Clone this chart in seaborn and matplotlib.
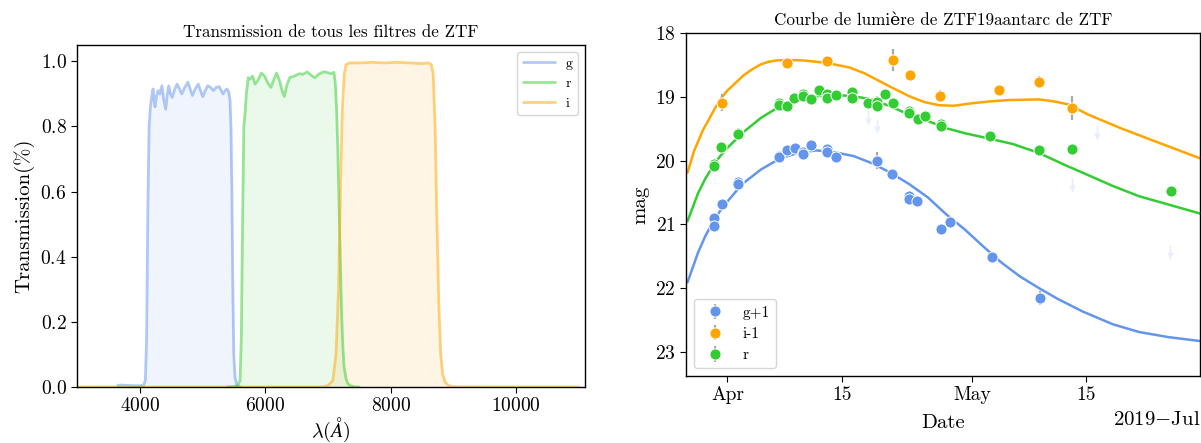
import numpy as np
import pandas as pd
import matplotlib
matplotlib.use("Agg")
import matplotlib.pyplot as plt
import matplotlib.dates as mdates
from matplotlib.path import Path
import seaborn as sns


# Filter transmission curves (wavelength in Angstrom, transmission)

g_wl = [3650, 3700, 3800, 3900, 4000, 4060, 4090, 4110, 4130, 4150,
        4170, 4190, 4213, 4230, 4244, 4270, 4293, 4320, 4354, 4385,
        4415, 4440, 4463, 4490, 4518, 4560, 4598, 4635, 4671, 4720,
        4768, 4805, 4841, 4885, 4933, 4970, 5006, 5045, 5085, 5130,
        5177, 5220, 5268, 5300, 5329, 5360, 5390, 5420, 5440, 5455,
        5470, 5485, 5500, 5520, 5550, 5600]
g_tr = [0.005, 0.006, 0.005, 0.004, 0.004, 0.005, 0.02, 0.15, 0.55, 0.80,
        0.86, 0.89, 0.915, 0.88, 0.86, 0.895, 0.91, 0.90, 0.925, 0.88,
        0.853, 0.90, 0.925, 0.90, 0.889, 0.915, 0.93, 0.915, 0.90, 0.92,
        0.936, 0.915, 0.895, 0.915, 0.93, 0.91, 0.891, 0.91, 0.925, 0.92,
        0.91, 0.92, 0.922, 0.91, 0.90, 0.91, 0.915, 0.905, 0.88, 0.80,
        0.60, 0.30, 0.10, 0.03, 0.005, 0.0]

r_wl = [5400, 5560, 5600, 5620, 5640, 5660, 5680, 5700, 5730, 5760,
        5800, 5840, 5880, 5939, 5990, 6040, 6091, 6140, 6183, 6230,
        6270, 6305, 6350, 6396, 6450, 6500, 6550, 6600, 6671, 6730,
        6793, 6850, 6900, 6945, 7000, 7050, 7098, 7120, 7140, 7160,
        7180, 7200, 7220, 7240, 7260, 7290, 7320, 7360, 7420, 7500]
r_tr = [0.0, 0.003, 0.02, 0.15, 0.50, 0.80, 0.84, 0.90, 0.95, 0.945,
        0.955, 0.93, 0.94, 0.964, 0.955, 0.935, 0.92, 0.945, 0.964, 0.94,
        0.91, 0.892, 0.93, 0.951, 0.953, 0.958, 0.962, 0.96, 0.967, 0.958,
        0.949, 0.96, 0.965, 0.968, 0.965, 0.962, 0.966, 0.93, 0.85, 0.72,
        0.55, 0.38, 0.22, 0.12, 0.06, 0.025, 0.01, 0.004, 0.001, 0.0]

i_wl = [3000, 6900, 7000, 7080, 7130, 7170, 7200, 7230, 7260, 7290,
        7350, 7500, 7700, 7900, 8100, 8300, 8500, 8600, 8650, 8680,
        8710, 8740, 8770, 8800, 8830, 8870, 8920, 9000, 9500, 11000]
i_tr = [0.0, 0.0, 0.004, 0.02, 0.10, 0.30, 0.60, 0.85, 0.96, 0.99,
        0.995, 0.995, 0.997, 0.995, 0.997, 0.995, 0.993, 0.995, 0.99, 0.96,
        0.80, 0.50, 0.25, 0.10, 0.04, 0.015, 0.005, 0.001, 0.0, 0.0]


# Light curve of ZTF19aantarc (MJD, plotted magnitude, error)

g_mjd = [58572.32, 58572.32, 58573.30, 58575.26, 58575.26, 58580.26, 58580.26, 58581.28,
         58582.29, 58583.31, 58583.31, 58584.29, 58586.25, 58586.25, 58587.30, 58592.38,
         58594.22, 58596.27, 58596.27, 58597.29, 58600.22, 58601.26, 58606.40, 58612.28]
g_mag = [20.90, 21.02, 20.68, 20.33, 20.36, 19.92, 19.95, 19.84,
         19.81, 19.87, 19.90, 19.76, 19.82, 19.86, 19.94, 20.00,
         20.21, 20.56, 20.60, 20.63, 21.08, 20.96, 21.52, 22.16]
g_err = [0.05, 0.07, 0.04, 0.04, 0.04, 0.03, 0.03, 0.03,
         0.03, 0.03, 0.03, 0.03, 0.03, 0.03, 0.03, 0.13,
         0.07, 0.04, 0.04, 0.04, 0.04, 0.04, 0.08, 0.11]

i_mjd = [58573.28, 58581.33, 58586.25, 58594.31, 58596.33, 58600.12, 58607.30, 58612.20, 58616.24]
i_mag = [19.09, 18.465, 18.44, 18.42, 18.65, 18.99, 18.89, 18.77, 19.17]
i_err = [0.13, 0.05, 0.05, 0.17, 0.07, 0.09, 0.07, 0.09, 0.19]

r_mjd = [58572.32, 58572.32, 58573.25, 58575.26, 58575.26, 58580.27, 58580.27, 58581.30,
         58582.22, 58583.24, 58583.24, 58584.28, 58585.27, 58586.25, 58586.25, 58587.28,
         58589.24, 58589.24, 58591.28, 58592.31, 58592.31, 58593.29, 58594.34, 58596.27,
         58596.27, 58597.34, 58598.27, 58600.20, 58600.20, 58606.20, 58612.25, 58616.22,
         58628.35]
r_mag = [20.05, 20.09, 19.78, 19.56, 19.59, 19.09, 19.12, 19.14,
         19.01, 18.96, 18.99, 19.04, 18.90, 18.96, 19.01, 18.97,
         18.93, 19.01, 19.10, 19.08, 19.14, 18.96, 19.10, 19.22,
         19.25, 19.35, 19.30, 19.42, 19.46, 19.61, 19.83, 19.82,
         20.47]
r_err = [0.06, 0.06, 0.04, 0.04, 0.04, 0.03, 0.03, 0.03,
         0.03, 0.03, 0.03, 0.03, 0.03, 0.03, 0.03, 0.03,
         0.04, 0.04, 0.08, 0.09, 0.05, 0.03, 0.04, 0.03,
         0.03, 0.03, 0.03, 0.03, 0.03, 0.03, 0.03, 0.07,
         0.07]

# upper limits
lim_mjd = [58591.28, 58592.31, 58616.26, 58619.28, 58628.31]
lim_mag = [19.33, 19.46, 20.39, 19.56, 21.43]

# fitted models
g_fit_mjd = [58569.1, 58570.4, 58571.3, 58572.2, 58573.1, 58574.0, 58575.8, 58578.1, 58580.4,
             58582.6, 58584.9, 58587.2, 58589.5, 58591.7, 58594.0, 58596.3, 58598.6, 58600.8,
             58603.1, 58605.4, 58607.6, 58609.9, 58612.2, 58614.5, 58617.6, 58621.3, 58624.5,
             58628.1, 58632.5]
g_fit_mag = [21.91, 21.44, 21.18, 20.97, 20.79, 20.64, 20.37, 20.14, 19.97,
             19.88, 19.84, 19.87, 19.93, 20.04, 20.19, 20.37, 20.58, 20.84,
             21.08, 21.35, 21.60, 21.82, 22.00, 22.17, 22.37, 22.57, 22.69,
             22.77, 22.84]

i_fit_mjd = [58569.1, 58569.9, 58571.0, 58572.6, 58573.3, 58574.0, 58575.0, 58576.0,
             58577.0, 58578.1, 58579.0, 58579.9, 58581.3, 58583.5, 58586.3, 58589.0,
             58590.8, 58592.6, 58594.4, 58596.3, 58598.1, 58599.9, 58601.7, 58604.0,
             58606.3, 58608.5, 58612.2, 58614.0, 58615.9, 58618.1, 58622.2, 58626.7,
             58632.5]
i_fit_mag = [20.19, 19.85, 19.52, 19.15, 19.01, 18.90, 18.78, 18.66,
             18.57, 18.49, 18.45, 18.43, 18.42, 18.43, 18.47, 18.54,
             18.63, 18.75, 18.87, 18.99, 19.08, 19.13, 19.14, 19.10,
             19.07, 19.05, 19.04, 19.07, 19.12, 19.27, 19.49, 19.71,
             19.99]

r_fit_mjd = [58569.1, 58570.4, 58571.3, 58572.2, 58573.1, 58574.0, 58575.8, 58578.1, 58580.4,
             58582.6, 58584.9, 58587.2, 58589.5, 58591.7, 58594.0, 58596.3, 58598.6, 58600.8,
             58603.1, 58606.3, 58609.0, 58612.2, 58615.4, 58618.1, 58621.3, 58624.5,
             58628.1, 58632.5]
r_fit_mag = [20.95, 20.51, 20.28, 20.09, 19.93, 19.80, 19.57, 19.33, 19.15,
             19.04, 18.99, 18.97, 18.99, 19.04, 19.15, 19.28, 19.38, 19.49,
             19.57, 19.66, 19.74, 19.88, 20.07, 20.22, 20.40, 20.56,
             20.69, 20.85]


def mjd_to_date(mjd):
    return pd.to_datetime(np.asarray(mjd), unit="D", origin=pd.Timestamp("1858-11-17"))


# Style

sns.set_style("ticks")
plt.rcParams.update({
    "font.family": ["cmr10", "DejaVu Serif"],
    "mathtext.fontset": "cm",
    "axes.formatter.use_mathtext": True,
    "axes.unicode_minus": False,
    "axes.edgecolor": "black",
    "axes.linewidth": 1.0,
    "text.color": "black",
    "axes.labelcolor": "black",
    "xtick.color": "black",
    "ytick.color": "black",
    "xtick.major.size": 4,
    "ytick.major.size": 4,
})

colors = {"g": "cornflowerblue", "r": "limegreen", "i": "orange"}

# down arrow used for the upper limits
arrow = Path([(-0.12, 1.0), (0.12, 1.0), (0.12, 0.0), (0.45, 0.0), (0.0, -1.0),
              (-0.45, 0.0), (-0.12, 0.0), (-0.12, 1.0)])

fig = plt.figure(figsize=(12.01, 4.43), dpi=100)

ax1 = fig.add_axes([0.0641, 0.1264, 0.423, 0.772])
ax2 = fig.add_axes([0.5712, 0.1512, 0.428, 0.774])


# Left : filter transmissions

for band, wl, tr in [("g", g_wl, g_tr), ("r", r_wl, r_tr), ("i", i_wl, i_tr)]:

    sns.lineplot(x=wl, y=tr, ax=ax1, color=colors[band], alpha=0.5,
                 linewidth=2, label=band, sort=False)

    ax1.fill_between(wl, tr, color=colors[band], alpha=0.1, linewidth=0)

ax1.set_xlim(3000, 11100)
ax1.set_ylim(0, 1.05)
ax1.set_title("Transmission de tous les filtres de ZTF", fontsize=12.3)
ax1.set_xlabel(r"$\lambda(\AA)$", fontsize=14.5, labelpad=0)
ax1.set_ylabel("Transmission(%)", fontsize=15)
ax1.tick_params(labelsize=14)
ax1.legend(loc="upper right", fontsize=10, handlelength=2.3)


# Right : light curve

for band, label, mjd, mag, err, fmjd, fmag in [
        ("g", "g+1", g_mjd, g_mag, g_err, g_fit_mjd, g_fit_mag),
        ("i", "i-1", i_mjd, i_mag, i_err, i_fit_mjd, i_fit_mag),
        ("r", "r", r_mjd, r_mag, r_err, r_fit_mjd, r_fit_mag)]:

    sns.lineplot(x=mjd_to_date(fmjd), y=fmag, ax=ax2, color=colors[band],
                 linewidth=1.8, legend=False)

    ax2.errorbar(mjd_to_date(mjd), mag, yerr=err, fmt="o", color=colors[band],
                 ecolor="darkgray", elinewidth=1.6, capsize=0, markersize=8,
                 markeredgecolor="white", markeredgewidth=0.7, label=label)

ax2.scatter(mjd_to_date(lim_mjd), lim_mag, marker=arrow, s=110,
            color="cornflowerblue", alpha=0.15, linewidths=0)

ax2.set_xlim(pd.Timestamp("2019-03-26 22:00"), pd.Timestamp("2019-05-28 23:00"))
ax2.set_ylim(23.38, 18)

locator = mdates.DayLocator(bymonthday=[1, 15])
formatter = mdates.ConciseDateFormatter(locator, offset_formats=[""] * 6)
ax2.xaxis.set_major_locator(locator)
ax2.xaxis.set_major_formatter(formatter)

ax2.set_title("Courbe de lumière de ZTF19aantarc de ZTF", fontsize=12.3)
ax2.set_xlabel("Date", fontsize=15, labelpad=7)
ax2.set_ylabel("mag", fontsize=15)
ax2.tick_params(labelsize=14)
ax2.text(1.0, -0.128, r"$2019{-}\mathrm{Jul}$", transform=ax2.transAxes,
         ha="right", va="center", fontsize=15)
ax2.legend(loc="lower left", fontsize=11)

fig.savefig("out.png", dpi=100)
